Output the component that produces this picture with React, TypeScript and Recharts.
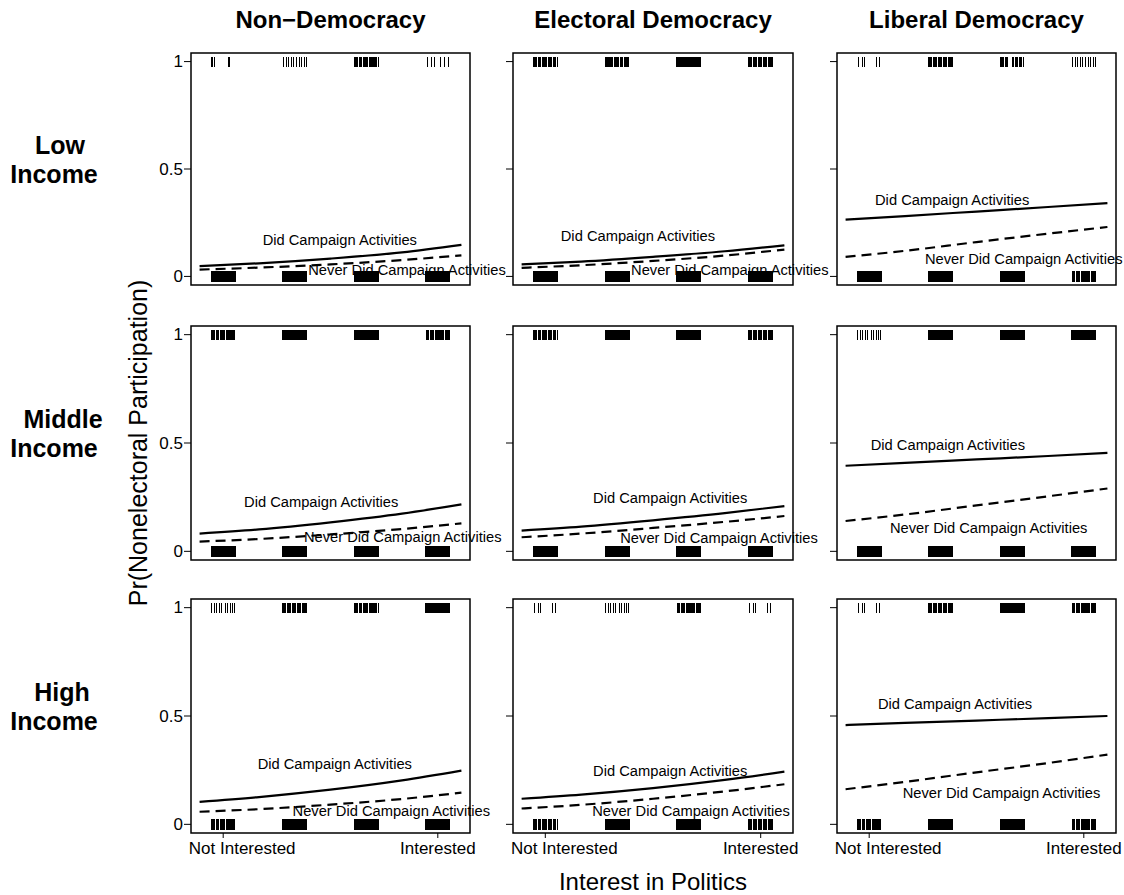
import React from "react";
import { ComposedChart, Line, Scatter, XAxis, YAxis, ReferenceArea, ReferenceDot } from "recharts";

const DEMOCRACY_TYPES = ["Non\u2212Democracy", "Electoral Democracy", "Liberal Democracy"];
const INCOME_LEVELS = [["Low", "Income"], ["Middle", "Income"], ["High", "Income"]];
const INTEREST_TICKS = [1, 4];
const INTEREST_LABELS = ["Not Interested", "Interested"];
const RUG_CENTERS = [1, 2, 3, 4];
const Y_TICKS = [0, 0.5, 1];
const Y_TICK_LABELS = ["0", "0.5", "1"];
const LINE_X = [0.67, 1.5, 2.5, 3.5, 4.33];

// panels in reading order (rows: income, cols: regime type)
const DID_CAMPAIGN = [
  [0.048, 0.061, 0.083, 0.112, 0.147],
  [0.056, 0.069, 0.091, 0.117, 0.145],
  [0.264, 0.281, 0.302, 0.323, 0.341],
  [0.082, 0.101, 0.134, 0.174, 0.217],
  [0.096, 0.114, 0.143, 0.176, 0.209],
  [0.395, 0.408, 0.424, 0.44, 0.454],
  [0.104, 0.126, 0.16, 0.203, 0.248],
  [0.118, 0.137, 0.167, 0.205, 0.243],
  [0.458, 0.468, 0.479, 0.49, 0.5],
];
const NEVER_CAMPAIGN = [
  [0.032, 0.041, 0.056, 0.076, 0.098],
  [0.04, 0.052, 0.072, 0.097, 0.125],
  [0.091, 0.119, 0.16, 0.199, 0.23],
  [0.045, 0.057, 0.078, 0.103, 0.129],
  [0.065, 0.082, 0.108, 0.136, 0.163],
  [0.14, 0.17, 0.212, 0.254, 0.29],
  [0.058, 0.07, 0.091, 0.117, 0.146],
  [0.073, 0.09, 0.118, 0.152, 0.185],
  [0.162, 0.196, 0.24, 0.283, 0.322],
];
const DID_LABEL_POS = [
  [2.63, 0.171], [2.29, 0.187], [2.16, 0.356],
  [2.37, 0.229], [2.74, 0.248], [2.1, 0.493],
  [2.56, 0.279], [2.74, 0.248], [2.2, 0.556],
];
const NEVER_LABEL_POS = [
  [3.57, 0.032], [3.57, 0.03], [3.16, 0.082],
  [3.51, 0.065], [3.42, 0.062], [2.67, 0.108],
  [3.35, 0.061], [3.03, 0.061], [2.85, 0.143],
];

// rug tick offsets around each interest level
const RUG_SOLID = [
  -0.168, -0.156, -0.144, -0.132, -0.12, -0.108, -0.096, -0.084, -0.072, -0.06, -0.048, -0.036, -0.024, -0.012, 0,
  0.012, 0.024, 0.036, 0.048, 0.06, 0.072, 0.084, 0.096, 0.108, 0.12, 0.132, 0.144, 0.156, 0.168,
];
const RUG_DENSE = [
  -0.165, -0.152, -0.139, -0.126, -0.1, -0.087, -0.074, -0.061, -0.035, -0.022, -0.009,
  0.004, 0.017, 0.043, 0.056, 0.069, 0.082, 0.108, 0.121, 0.134, 0.147, 0.165,
];
const RUG_GAPPED = [-0.165, -0.152, -0.139, -0.12, -0.1, -0.087, -0.074, -0.06, 0.0, 0.014, 0.04, 0.055, 0.07, 0.1, 0.115, 0.13, 0.15];
const RUG_MEDIUM = [-0.16, -0.12, -0.09, -0.05, -0.02, 0.03, 0.06, 0.1, 0.13, 0.16];
const RUG_SPARSE = [-0.15, -0.09, -0.04, 0.04, 0.09, 0.15];
const RUG_FEW = [-0.15, -0.1, -0.07, 0.1, 0.14];
const RUG_PAIRS = [-0.165, -0.15, -0.12, 0.07, 0.09];

const RUG_TOP = [
  [RUG_PAIRS, RUG_MEDIUM, RUG_DENSE, RUG_SPARSE],
  [RUG_DENSE, RUG_DENSE, RUG_SOLID, RUG_DENSE],
  [RUG_FEW, RUG_DENSE, RUG_GAPPED, RUG_MEDIUM],
  [RUG_DENSE, RUG_SOLID, RUG_SOLID, RUG_DENSE],
  [RUG_DENSE, RUG_SOLID, RUG_SOLID, RUG_DENSE],
  [RUG_MEDIUM, RUG_SOLID, RUG_SOLID, RUG_SOLID],
  [RUG_MEDIUM, RUG_DENSE, RUG_DENSE, RUG_SOLID],
  [RUG_FEW, RUG_MEDIUM, RUG_DENSE, RUG_FEW],
  [RUG_FEW, RUG_DENSE, RUG_SOLID, RUG_DENSE],
];
const RUG_BOTTOM = [
  [RUG_SOLID, RUG_SOLID, RUG_SOLID, RUG_SOLID],
  [RUG_SOLID, RUG_SOLID, RUG_SOLID, RUG_SOLID],
  [RUG_SOLID, RUG_SOLID, RUG_SOLID, RUG_DENSE],
  [RUG_SOLID, RUG_SOLID, RUG_SOLID, RUG_SOLID],
  [RUG_SOLID, RUG_SOLID, RUG_SOLID, RUG_SOLID],
  [RUG_SOLID, RUG_SOLID, RUG_SOLID, RUG_SOLID],
  [RUG_DENSE, RUG_SOLID, RUG_SOLID, RUG_SOLID],
  [RUG_DENSE, RUG_SOLID, RUG_SOLID, RUG_DENSE],
  [RUG_DENSE, RUG_SOLID, RUG_SOLID, RUG_DENSE],
];

const FONT = '"Liberation Sans", Arial, Helvetica, sans-serif';
const X_DOMAIN = [0.55, 4.45];
const Y_DOMAIN = [-0.04, 1.04];
const BOX_LEFT = [191, 513, 837];
const BOX_WIDTH = [279, 280, 279];
const BOX_TOP = [53, 326, 599];
const BOX_HEIGHT = [232, 234, 234];

const RugTick = (p: any) => (
  <line
    x1={p.cx}
    x2={p.cx}
    y1={p.cy - 5}
    y2={p.cy + 5.5}
    stroke="#000"
    strokeWidth={1}
    shapeRendering="crispEdges"
  />
);

const labelShape = (text: string) => (p: any) => (
  <text x={p.cx} y={p.cy} textAnchor="middle" dominantBaseline="central" fontSize={14.7} fontFamily={FONT} fill="#000">
    {text}
  </text>
);

const YTick = (p: any) => (
  <text x={p.x} y={p.y} textAnchor="end" dominantBaseline="central" fontSize={17} fontFamily={FONT} fill="#000">
    {Y_TICK_LABELS[Y_TICKS.indexOf(p.payload.value)]}
  </text>
);

const EmptyTick = () => <g />;

const XTick = (p: any) => {
  const idx = INTEREST_TICKS.indexOf(p.payload.value);
  return (
    <text x={p.x + (idx === 0 ? 19 : 0)} y={p.y} dy="0.71em" textAnchor="middle" fontSize={17} fontFamily={FONT} fill="#000">
      {INTEREST_LABELS[idx]}
    </text>
  );
};

function Panel({ row, col }: { row: number; col: number }) {
  const i = row * 3 + col;
  const showX = row === 2;
  const ML = 50, MR = 45, MT = 10, MB = 40;
  const did = LINE_X.map((x, k) => ({ x, y: DID_CAMPAIGN[i][k] }));
  const never = LINE_X.map((x, k) => ({ x, y: NEVER_CAMPAIGN[i][k] }));
  const rugTop = RUG_TOP[i].flatMap((offs, c) => offs.map((o) => ({ x: RUG_CENTERS[c] + o, y: 1 })));
  const rugBottom = RUG_BOTTOM[i].flatMap((offs, c) => offs.map((o) => ({ x: RUG_CENTERS[c] + o, y: 0 })));
  return (
    <div style={{ position: "absolute", left: BOX_LEFT[col] - ML, top: BOX_TOP[row] - MT }}>
      <ComposedChart
        width={BOX_WIDTH[col] + ML + MR}
        height={BOX_HEIGHT[row] + MT + MB}
        margin={{ top: MT, right: MR, bottom: showX ? MB - 30 : MB, left: ML - 40 }}
      >
        <XAxis
          type="number"
          dataKey="x"
          domain={X_DOMAIN}
          allowDataOverflow
          ticks={INTEREST_TICKS}
          hide={!showX}
          height={30}
          axisLine={false}
          tickSize={5}
          tickMargin={4}
          tickLine={{ stroke: "#000", strokeWidth: 1 }}
          tick={XTick}
        />
        <YAxis
          type="number"
          dataKey="y"
          domain={Y_DOMAIN}
          allowDataOverflow
          ticks={Y_TICKS}
          width={40}
          axisLine={false}
          tickSize={7}
          tickMargin={1}
          tickLine={{ stroke: "#000", strokeWidth: 1 }}
          tick={col === 0 ? YTick : EmptyTick}
        />
        <ReferenceArea
          x1={X_DOMAIN[0]}
          x2={X_DOMAIN[1]}
          y1={Y_DOMAIN[0]}
          y2={Y_DOMAIN[1]}
          fill="none"
          fillOpacity={0}
          stroke="#000"
          strokeWidth={1.5}
          ifOverflow="visible"
        />
        <Scatter data={rugTop} shape={RugTick} isAnimationActive={false} />
        <Scatter data={rugBottom} shape={RugTick} isAnimationActive={false} />
        <Line data={did} dataKey="y" type="monotone" stroke="#000" strokeWidth={2.2} dot={false} isAnimationActive={false} />
        <Line
          data={never}
          dataKey="y"
          type="monotone"
          stroke="#000"
          strokeWidth={2.2}
          strokeDasharray="10 6"
          dot={false}
          isAnimationActive={false}
        />
        <ReferenceDot x={DID_LABEL_POS[i][0]} y={DID_LABEL_POS[i][1]} r={0} ifOverflow="visible" shape={labelShape("Did Campaign Activities")} />
        <ReferenceDot x={NEVER_LABEL_POS[i][0]} y={NEVER_LABEL_POS[i][1]} r={0} ifOverflow="visible" shape={labelShape("Never Did Campaign Activities")} />
      </ComposedChart>
    </div>
  );
}

const ROW_LABEL_X = [[60, 54], [63, 54], [62, 54]];

export default function App() {
  return (
    <div style={{ position: "absolute", left: 0, top: 0, width: 1124, height: 895, overflow: "hidden", background: "#fff" }}>
      {[0, 1, 2].map((r) => [0, 1, 2].map((c) => <Panel key={`${r}-${c}`} row={r} col={c} />))}
      <svg width={1124} height={895} style={{ position: "absolute", left: 0, top: 0, pointerEvents: "none" }}>
        {DEMOCRACY_TYPES.map((t, c) => (
          <text key={t} x={BOX_LEFT[c] + BOX_WIDTH[c] / 2} y={28} textAnchor="middle" fontSize={24} fontWeight="bold" fontFamily={FONT}>
            {t}
          </text>
        ))}
        {INCOME_LEVELS.map((lines, r) => {
          const mid = BOX_TOP[r] + (BOX_HEIGHT[r] * 0.54) / 1.08;
          return (
            <g key={r}>
              <text x={ROW_LABEL_X[r][0]} y={mid - 15} textAnchor="middle" fontSize={25} fontWeight="bold" fontFamily={FONT}>
                {lines[0]}
              </text>
              <text x={ROW_LABEL_X[r][1]} y={mid + 14} textAnchor="middle" fontSize={25} fontWeight="bold" fontFamily={FONT}>
                {lines[1]}
              </text>
            </g>
          );
        })}
        <text x={147} y={443} transform="rotate(-90, 147, 443)" textAnchor="middle" fontSize={25} fontFamily={FONT}>
          Pr(Nonelectoral Participation)
        </text>
        <text x={653} y={890} textAnchor="middle" fontSize={24} fontFamily={FONT}>
          Interest in Politics
        </text>
      </svg>
    </div>
  );
}
